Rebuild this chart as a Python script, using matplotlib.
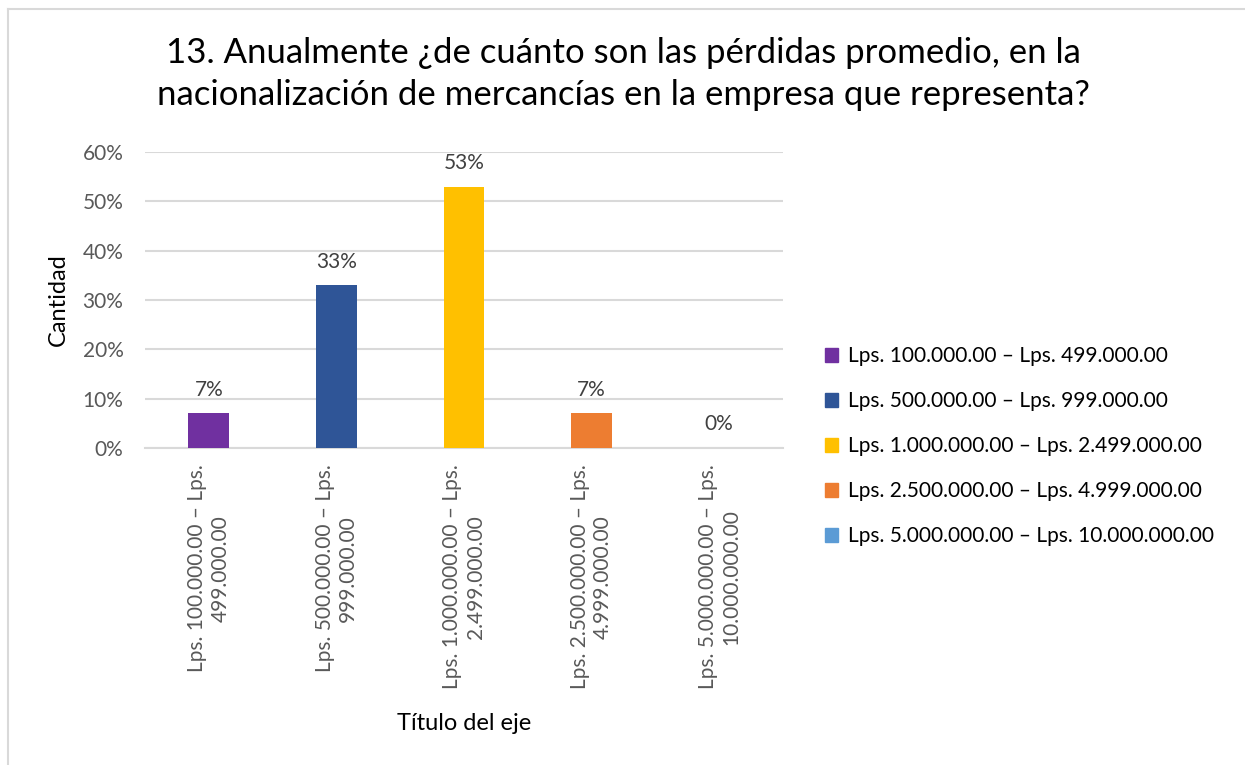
import matplotlib
matplotlib.use("Agg")
import matplotlib.pyplot as plt
from matplotlib.patches import Patch
from matplotlib.lines import Line2D
from matplotlib.ticker import PercentFormatter

plt.rcParams['font.family'] = ['Lato', 'DejaVu Sans']

# data
categorias = ["Lps. 100.000.00 – Lps.\n499.000.00",
              "Lps. 500.000.00 – Lps.\n999.000.00",
              "Lps. 1.000.000.00 – Lps.\n2.499.000.00",
              "Lps. 2.500.000.00 – Lps.\n4.999.000.00",
              "Lps. 5.000.000.00 – Lps.\n10.000.000.00"]
leyenda = ["Lps. 100.000.00 – Lps. 499.000.00",
           "Lps. 500.000.00 – Lps. 999.000.00",
           "Lps. 1.000.000.00 – Lps. 2.499.000.00",
           "Lps. 2.500.000.00 – Lps. 4.999.000.00",
           "Lps. 5.000.000.00 – Lps. 10.000.000.00"]
valores = [7, 33, 53, 7, 0]
colores = ["#7030A0", "#2F5597", "#FFC000", "#ED7D31", "#5B9BD5"]
titulo = ["13. Anualmente ¿de cuánto son las pérdidas promedio, en la",
          "nacionalización de mercancías en la empresa que representa?"]

W, H = 1245, 765
fig = plt.figure(figsize=(W / 100, H / 100), dpi=100)
ax = fig.add_axes([145 / W, 1 - 448 / H, 638 / W, 296 / H])

x = list(range(len(valores)))
ax.bar(x, valores, width=0.32, color=colores, zorder=3)
for i, v in enumerate(valores):
    ax.annotate(f"{v}%", (i, v), xytext=(0, 17), textcoords="offset points",
                ha="center", va="center", fontsize=15, color="#404040")

ax.set_xlim(-0.5, len(valores) - 0.5)
ax.set_ylim(0, 60)
ax.set_yticks(range(0, 61, 10))
ax.yaxis.set_major_formatter(PercentFormatter(decimals=0))
ax.grid(axis="y", color="#d9d9d9", linewidth=1.5, zorder=0)
for s in ["top", "right", "left"]:
    ax.spines[s].set_visible(False)
ax.spines["bottom"].set_color("#d9d9d9")
ax.spines["bottom"].set_linewidth(1.5)
ax.tick_params(axis="both", length=0, labelcolor="#595959", labelsize=15)
ax.tick_params(axis="y", pad=15.5)
ax.tick_params(axis="x", pad=12)

ax.set_xticks(x)
ax.set_xticklabels(categorias, rotation=90, ha="center", va="top",
                   multialignment="center", linespacing=1.2)

fig.text(58 / W, 1 - 300 / H, "Cantidad", fontsize=17, rotation=90, ha="center", va="center")
fig.text(464 / W, 1 - 724 / H, "Título del eje", fontsize=17, ha="center", va="center")
# title, one text per line (baselines at 63 and 105 px)
fig.text(623 / W, 1 - 63 / H, titulo[0], fontsize=25, ha="center", va="baseline")
fig.text(623 / W, 1 - 105 / H, titulo[1], fontsize=25, ha="center", va="baseline")

handles = [Patch(color=c) for c in colores]
fig.legend(handles, leyenda, loc="center left", bbox_to_anchor=(806 / W, 1 - 446 / H),
           frameon=False, fontsize=15, handlelength=0.65, handleheight=0.65,
           handletextpad=0.45, labelspacing=1.2, labelcolor="black")

# chart frame (top and left edges visible)
fig.add_artist(Line2D([7.5 / W, 7.5 / W], [0, 1 - 8.5 / H], transform=fig.transFigure, color="#d9d9d9", linewidth=1.5))
fig.add_artist(Line2D([7.5 / W, 1], [1 - 8.5 / H, 1 - 8.5 / H], transform=fig.transFigure, color="#d9d9d9", linewidth=1.5))

fig.savefig("out.png", dpi=100)
